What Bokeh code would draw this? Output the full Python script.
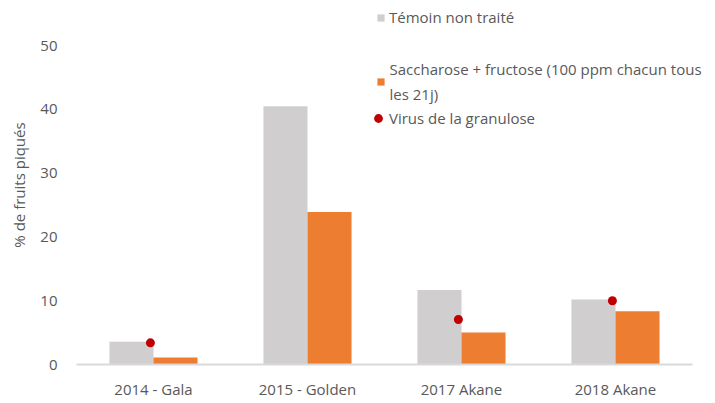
from bokeh.plotting import figure
from bokeh.models import (Range1d, ColumnDataSource, Legend, LegendItem,
                          Label, FixedTicker)
from bokeh.transform import dodge
from bokeh.embed import file_html
from bokeh.resources import INLINE

# ---- data ----
categories = ["2014 - Gala", "2015 - Golden", "2017 Akane", "2018 Akane"]
temoin = [3.55, 40.5, 11.7, 10.2]
sucres = [1.1, 23.9, 5.0, 8.35]
virus = [3.4, float("nan"), 7.05, 10.0]
y_ticks = [0, 10, 20, 30, 40, 50]
series_names = ["Témoin non traité",
                "Saccharose + fructose (100 ppm chacun tous",
                "les 21j)",
                "Virus de la granulose"]
y_title = "% de fruits piqués"

# ---- style ----
FONT = "Open Sans"
FS = "15px"
TXT = "#595959"
GRAY = "#D0CECE"
ORANGE = "#ED7D31"
RED = "#C00000"

xi = list(range(len(categories)))
src = ColumnDataSource(dict(xi=xi, temoin=temoin, sucres=sucres, virus=virus))

p = figure(x_range=Range1d(-0.5, 3.63), y_range=Range1d(0, 56.3),
           width=715, height=403, output_backend="svg", toolbar_location=None,
           min_border_left=76, min_border_right=3, min_border_top=5, min_border_bottom=39)
p.xgrid.visible = False
p.ygrid.visible = False
p.outline_line_color = None
p.background_fill_color = "white"

r1 = p.vbar(x=dodge("xi", -0.143), top="temoin", width=0.286,
            source=src, fill_color=GRAY, line_color=None)
r2 = p.vbar(x=dodge("xi", 0.143), top="sucres", width=0.286,
            source=src, fill_color=ORANGE, line_color=None)
r3 = p.scatter(x=dodge("xi", -0.02), y="virus", size=9,
               source=src, fill_color=RED, line_color=None)

xa = p.xaxis[0]
xa.ticker = FixedTicker(ticks=xi)
xa.major_label_overrides = {i: c for i, c in zip(xi, categories)}
xa.bounds = (-0.5, len(categories) - 0.5)
xa.axis_line_color = "#D9D9D9"
xa.axis_line_width = 2
xa.major_tick_line_color = None
xa.minor_tick_line_color = None
xa.major_label_text_font = FONT
xa.major_label_text_font_size = FS
xa.major_label_text_color = TXT
xa.major_label_standoff = 8

ya = p.yaxis[0]
ya.ticker = FixedTicker(ticks=y_ticks)
ya.bounds = (y_ticks[0], y_ticks[-1])
ya.axis_line_color = None
ya.major_tick_line_color = None
ya.minor_tick_line_color = None
ya.major_label_text_font = FONT
ya.major_label_text_font_size = FS
ya.major_label_text_color = TXT
ya.major_label_standoff = 13
ya.axis_label = y_title
ya.axis_label_text_font = FONT
ya.axis_label_text_font_size = FS
ya.axis_label_text_font_style = "normal"
ya.axis_label_text_color = TXT
ya.axis_label_standoff = 8


def mk_legend(renderer, label, loc, gw, gh, lh, standoff):
    leg = Legend(items=[LegendItem(label=label, renderers=[renderer])],
                 location=loc, orientation="vertical",
                 glyph_width=gw, glyph_height=gh, label_height=lh,
                 label_standoff=standoff, padding=0, margin=0, spacing=0,
                 border_line_color=None, background_fill_alpha=0,
                 label_text_font=FONT, label_text_font_size=FS,
                 label_text_color=TXT)
    p.add_layout(leg, "center")


mk_legend(r1, series_names[0], (300, 337), 9, 9, 20, 4)
mk_legend(r2, " ", (300, 273), 9, 9, 20, 4)
mk_legend(r3, series_names[3], (291, 235), 22, 22, 20, 0)

for txt, yy in ((series_names[1], 296), (series_names[2], 271)):
    p.add_layout(Label(x=313, y=yy, x_units="screen", y_units="screen", text=txt,
                       text_align="left", text_baseline="middle",
                       text_font=FONT, text_font_size=FS, text_color=TXT))

open("out.html", "w").write(file_html(p, INLINE))
